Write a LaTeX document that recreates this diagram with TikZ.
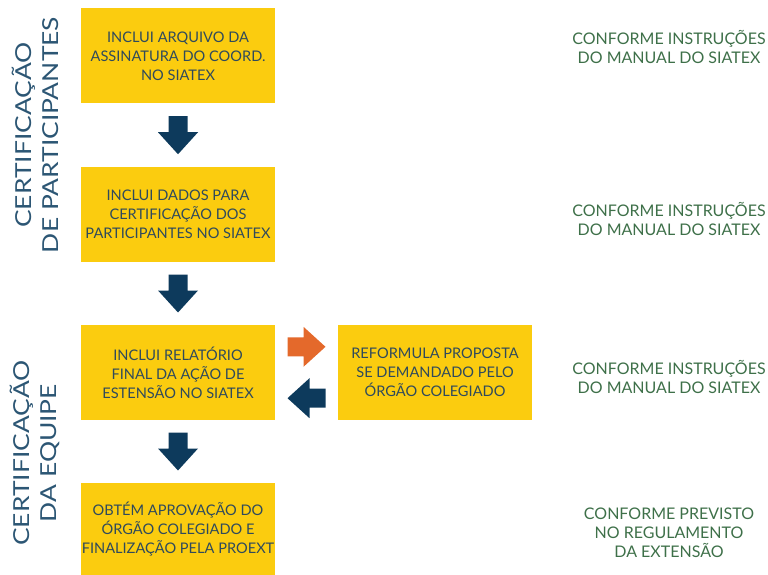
\documentclass[tikz,border=0pt]{standalone}
\usepackage{fontspec}
\setmainfont{Lato}
\newfontfamily\sidefont[FakeStretch=1.2]{Lato}
\usetikzlibrary{calc}
\definecolor{boxyellow}{HTML}{FBCC0F}
\definecolor{navy}{HTML}{0D3A5C}
\definecolor{orangeA}{HTML}{E4692B}
\definecolor{noteg}{HTML}{3E7049}
\definecolor{boxtxt}{HTML}{2F4A5C}
\definecolor{sidelbl}{HTML}{2C5674}
\tikzset{
  stepbox/.style={fill=boxyellow, draw=none, minimum width=194pt, minimum height=95pt,
    inner sep=0pt, align=center, text=boxtxt, font=\fontsize{14.6}{19}\selectfont},
  note/.style={align=center, text=noteg, font=\fontsize{16}{19}\selectfont},
  side/.style={rotate=90, align=center, text=sidelbl, font=\sidefont\fontsize{22}{27}\selectfont},
  navyarrow/.style={fill=navy, draw=none},
  orangearrow/.style={fill=orangeA, draw=none}
}
\begin{document}
\begin{tikzpicture}[x=1pt, y=-1pt]
\useasboundingbox (0,0) rectangle (768,575);
% boxes
\node[stepbox] (b1) at (178,56) {INCLUI ARQUIVO DA\\ASSINATURA DO COORD.\\NO SIATEX};
\node[stepbox] (b2) at (178,214.5) {INCLUI DADOS PARA\\CERTIFICAÇÃO DOS\\PARTICIPANTES NO SIATEX};
\node[stepbox] (b3) at (178,372.5) {INCLUI RELATÓRIO\\FINAL DA AÇÃO DE\\ESTENSÃO NO SIATEX};
\node[stepbox, minimum height=92pt] (b4) at (178,529) {OBTÉM APROVAÇÃO DO\\ÓRGÃO COLEGIADO E\\FINALIZAÇÃO PELA PROEXT};
\node[stepbox] (b5) at (435,372.5) {REFORMULA PROPOSTA\\SE DEMANDADO PELO\\ÓRGÃO COLEGIADO};
% down arrows
\foreach \a/\b in {b1/b2, b2/b3, b3/b4}{
  \path[navyarrow, shift={($(\a.south)!0.5!(\b.north)$)}]
    (-9.5,-19) -- (9.5,-19) -- (9.5,-3) -- (20,-3) -- (0,19) -- (-20,-3) -- (-9.5,-3) -- cycle;
}
% right (orange) arrow
\path[orangearrow, shift={($(b3.north east)!0.5!(b5.north west)+(0,22)$)}]
  (-19,-9.5) -- (-3,-9.5) -- (-3,-20) -- (19,0) -- (-3,20) -- (-3,9.5) -- (-19,9.5) -- cycle;
% left (navy) arrow
\path[navyarrow, shift={($(b3.south east)!0.5!(b5.south west)+(0,-22)$)}]
  (19,-9.5) -- (3,-9.5) -- (3,-20) -- (-19,0) -- (3,20) -- (3,9.5) -- (19,9.5) -- cycle;
% side labels
\node[side] (s1) at (35,135) {CERTIFICAÇÃO\\DE PARTICIPANTES};
\node[side] (s2) at (35,453) {CERTIFICAÇÃO\\DA EQUIPE};
% notes
\node[note] (n1) at (669,47) {CONFORME INSTRUÇÕES\\DO MANUAL DO SIATEX};
\node[note] (n2) at (669,219) {CONFORME INSTRUÇÕES\\DO MANUAL DO SIATEX};
\node[note] (n3) at (669,377) {CONFORME INSTRUÇÕES\\DO MANUAL DO SIATEX};
\node[note] (n4) at (669,533) {CONFORME PREVISTO\\NO REGULAMENTO\\DA EXTENSÃO};
\end{tikzpicture}
\end{document}
